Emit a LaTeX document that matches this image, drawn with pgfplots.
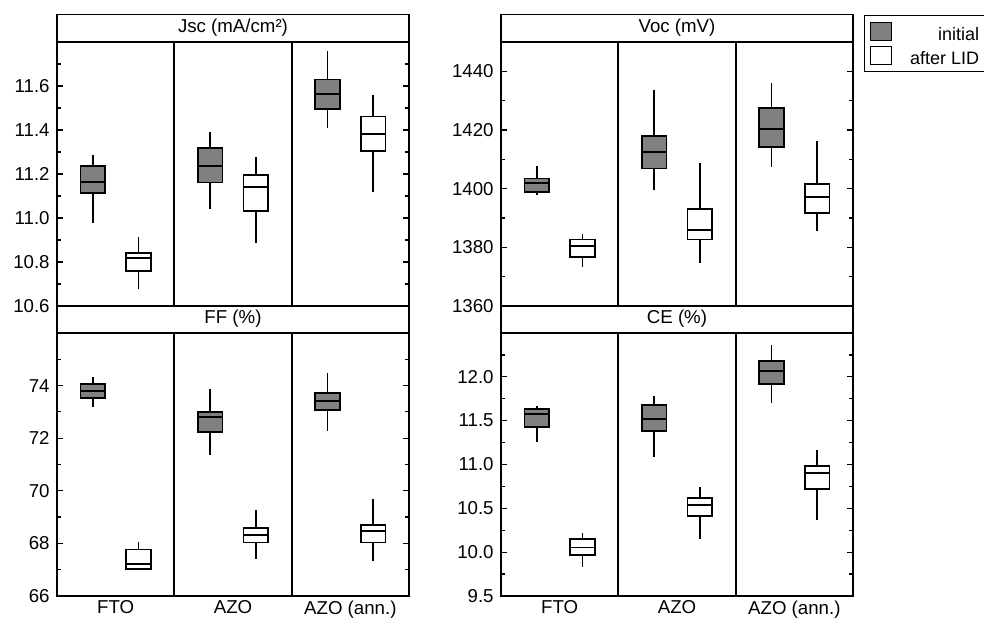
\documentclass[border=0pt]{standalone}
\usepackage{fontspec}
\setmainfont{Liberation Sans}
\usepackage{pgfplots}
\pgfplotsset{compat=1.18}
\usepgfplotslibrary{statistics}
\definecolor{boxgray}{RGB}{128,128,128}

\pgfplotsset{
  panel/.style={
    scale only axis, width=264pt, anchor=south west,
    xmin=0, xmax=3,
    xtick={0.5,1.5,2.5}, xticklabels={}, xtick style={draw=none},
    ytick pos=both, yticklabel pos=left, tick align=inside,
    major tick length=4.5pt, minor tick length=3pt,
    tick style={black, line width=0.9pt},
    axis line style={line width=1.1pt},
    ticklabel style={font=\fontsize{14}{16}\selectfont},
    yticklabel style={xshift=-2pt},
    /pgf/number format/assume math mode=true,
    /pgf/number format/set thousands separator={},
    every axis title/.style={draw, line width=1.1pt, minimum width=264pt,
      minimum height=20.25pt, inner sep=0pt, anchor=south, at={(0.5,1)},
      font=\fontsize{14}{16}\selectfont},
    boxplot/draw direction=y,
    boxplot/every median/.style={line width=1.4pt},
  },
  initial/.style={draw=black, fill=boxgray, line width=1.3pt},
  after/.style={draw=black, fill=white, line width=1.3pt},
}

% position, lower whisker, lower quartile, median, upper quartile, upper whisker, style
\newcommand{\bx}[7]{\addplot[#7, boxplot prepared={draw position=#1,
  lower whisker=#2, lower quartile=#3, median=#4, upper quartile=#5,
  upper whisker=#6, box extend=0.21, whisker extend=0}] coordinates {};}
% separators between the three groups
\newcommand{\seps}{%
  \draw[black, line width=1.5pt] (rel axis cs:0.33333,0) -- (rel axis cs:0.33333,1);
  \draw[black, line width=1.5pt] (rel axis cs:0.66667,0) -- (rel axis cs:0.66667,1);}

\begin{document}
\begin{tikzpicture}
\useasboundingbox (0,0) rectangle (738pt,468pt);

% Jsc
\begin{axis}[panel, at={(42.75pt,238.5pt)}, height=198pt,
  ymin=10.6, ymax=11.8,
  ytick={10.6,10.8,11.0,11.2,11.4,11.6}, minor ytick={10.7,10.9,11.1,11.3,11.5,11.7},
  yticklabel style={/pgf/number format/.cd, fixed, fixed zerofill, precision=1},
  title={Jsc (mA/cm²)}]
\seps
\bx{0.305}{10.976}{11.112}{11.164}{11.236}{11.286}{initial}
\bx{0.695}{10.676}{10.758}{10.817}{10.842}{10.915}{after}
\bx{1.305}{11.039}{11.161}{11.236}{11.317}{11.389}{initial}
\bx{1.695}{10.885}{11.033}{11.139}{11.195}{11.279}{after}
\bx{2.305}{11.411}{11.494}{11.565}{11.630}{11.761}{initial}
\bx{2.695}{11.118}{11.306}{11.380}{11.461}{11.559}{after}
\end{axis}

% Voc
\begin{axis}[panel, at={(375.75pt,238.5pt)}, height=198pt,
  ymin=1360, ymax=1450,
  ytick={1360,1380,1400,1420,1440}, minor ytick={1370,1390,1410,1430},
  title={Voc (mV)},
  legend style={at={(axis description cs:1.0313,1.1023)}, anchor=north west,
    draw=black, line width=1pt, font=\fontsize{13.5}{15}\selectfont,
    cells={anchor=base east}, row sep=0pt, column sep=10.5pt,
    nodes={text height=13.5pt, text depth=0pt, inner ysep=2.25pt, inner xsep=3pt},
    inner xsep=3.75pt, inner ysep=3pt},
  legend image code/.code={\draw[#1, line width=1.1pt] (0pt,0pt) rectangle (15.75pt,13.5pt);}]
\addlegendimage{initial}
\addlegendentry{initial}
\addlegendimage{after}
\addlegendentry{after LID}
\seps
\bx{0.305}{1397.7}{1398.9}{1401.8}{1403.5}{1407.8}{initial}
\bx{0.695}{1373.4}{1376.7}{1380.4}{1382.7}{1384.7}{after}
\bx{1.305}{1399.5}{1406.9}{1412.4}{1417.9}{1433.8}{initial}
\bx{1.695}{1374.8}{1382.7}{1385.9}{1393.0}{1408.9}{after}
\bx{2.305}{1407.4}{1414.2}{1420.3}{1427.5}{1436.0}{initial}
\bx{2.695}{1385.6}{1391.8}{1397.2}{1401.5}{1416.1}{after}
\end{axis}

% FF
\begin{axis}[panel, at={(42.75pt,21pt)}, height=197.25pt,
  ymin=66, ymax=76,
  ytick={66,68,70,72,74}, minor ytick={67,69,71,73,75},
  xticklabels={FTO,AZO,AZO (ann.)},
  title={FF (\%)}]
\seps
\bx{0.305}{73.17}{73.53}{73.81}{74.06}{74.34}{initial}
\bx{0.695}{67.02}{67.02}{67.21}{67.77}{68.04}{after}
\bx{1.305}{71.35}{72.24}{72.80}{72.99}{73.87}{initial}
\bx{1.695}{67.41}{68.03}{68.32}{68.59}{69.27}{after}
\bx{2.305}{72.28}{73.06}{73.40}{73.73}{74.48}{initial}
\bx{2.695}{67.34}{68.03}{68.46}{68.70}{69.67}{after}
\end{axis}

% CE
\begin{axis}[panel, at={(375.75pt,21pt)}, height=197.25pt,
  ymin=9.5, ymax=12.5,
  ytick={9.5,10.0,10.5,11.0,11.5,12.0}, minor ytick={9.75,10.25,10.75,11.25,11.75,12.25},
  yticklabel style={/pgf/number format/.cd, fixed, fixed zerofill, precision=1},
  xticklabels={FTO,AZO,AZO (ann.)},
  title={CE (\%)}]
\seps
\bx{0.305}{11.26}{11.431}{11.573}{11.634}{11.668}{initial}
\bx{0.695}{9.836}{9.966}{10.053}{10.149}{10.218}{after}
\bx{1.305}{11.08}{11.385}{11.515}{11.676}{11.782}{initial}
\bx{1.695}{10.149}{10.412}{10.538}{10.618}{10.744}{after}
\bx{2.305}{11.706}{11.916}{12.065}{12.179}{12.366}{initial}
\bx{2.695}{10.370}{10.718}{10.905}{10.985}{11.164}{after}
\end{axis}
\end{tikzpicture}
\end{document}
